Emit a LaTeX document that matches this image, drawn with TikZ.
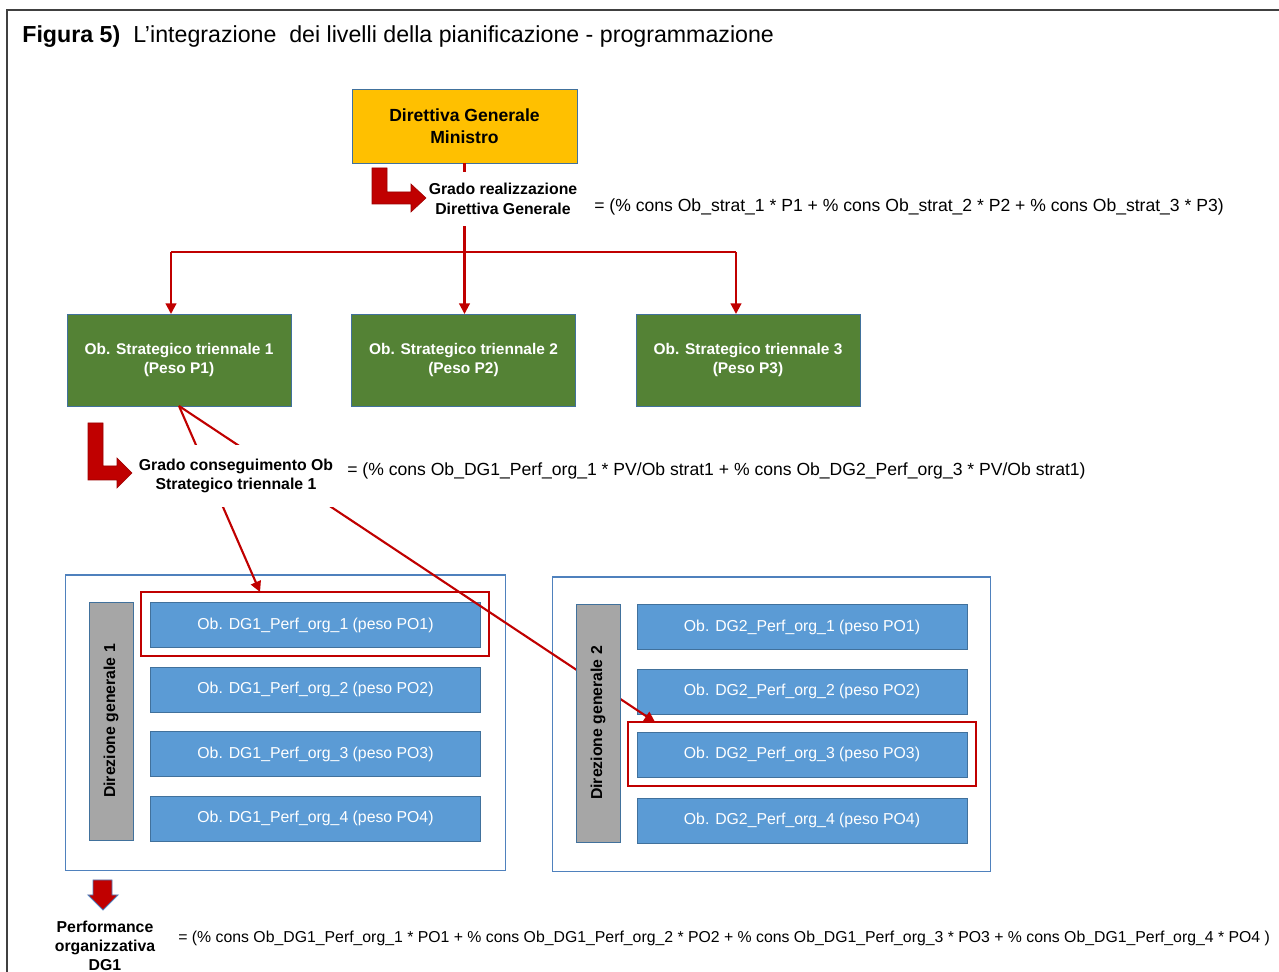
\documentclass[tikz,border=0pt]{standalone}
\usepackage{fontspec}
\setmainfont{Liberation Sans}
\usetikzlibrary{arrows.meta,calc}
\definecolor{oro}{HTML}{FFC000}
\definecolor{verde}{HTML}{548235}
\definecolor{azzurro}{HTML}{5B9BD5}
\definecolor{bordo}{HTML}{41719C}
\definecolor{grigio}{HTML}{A6A6A6}
\definecolor{rosso}{HTML}{C00000}
\definecolor{cornice}{HTML}{4F81BD}

\begin{document}
\begin{tikzpicture}[x=0.02cm,y=-0.02cm,
    box/.style={draw=bordo,line width=0.5pt,inner sep=0pt,outer sep=0pt,align=center},
    strat/.style={box,fill=verde,text=white,font=\fontsize{8.8}{11}\selectfont\bfseries,
      minimum width=4.48cm,minimum height=1.84cm},
    obj/.style={box,fill=azzurro,text=white,font=\fontsize{9}{11}\selectfont,
      minimum width=6.6cm,minimum height=0.9cm},
    dg/.style={box,fill=grigio,font=\fontsize{9}{11}\selectfont\bfseries,rotate=90,
      minimum width=4.76cm,minimum height=0.88cm},
    cont/.style={draw=cornice,fill=white,line width=0.6pt,inner sep=0pt,outer sep=0pt,
      minimum width=8.8cm,minimum height=5.92cm},
    hl/.style={draw=rosso,line width=1.4pt,inner sep=0pt,outer sep=0pt,
      minimum width=6.96cm,minimum height=1.28cm},
    lab/.style={fill=white,align=center,inner sep=0pt,font=\fontsize{9}{11}\selectfont\bfseries},
    formula/.style={anchor=west,inner sep=0pt,font=\fontsize{10}{12}\selectfont},
    arr/.style={draw=rosso,line width=1.2pt,-{Triangle[length=6pt,width=6pt]}},
    bent/.style={fill=rosso,draw=rosso!80!black,line width=0.3pt}]
\useasboundingbox (0,0) rectangle (1279,972);
% cornice
\draw[line width=0.8pt,black!75] (7,972) -- (7,10) -- (1279,10);
\node[anchor=west,inner sep=0pt,font=\fontsize{13.2}{15}\selectfont\bfseries] (fig) at (22,37) {Figura 5)};
\node[anchor=west,inner sep=0pt,font=\fontsize{13.2}{15}\selectfont] (titolo) at (133,37)
  {L'integrazione\ \ dei livelli della pianificazione - programmazione};

% livello ministro
\node[box,fill=oro,font=\fontsize{10}{12.5}\selectfont\bfseries,minimum width=4.5cm,minimum height=1.48cm]
  (dir) at (464.5,126) {Direttiva Generale\\Ministro};
\node[strat] (s1) at (179,360) {Ob. Strategico triennale 1\\(Peso P1)};
\node[strat] (s2) at (463.5,360) {Ob. Strategico triennale 2\\(Peso P2)};
\node[strat] (s3) at (748,360) {Ob. Strategico triennale 3\\(Peso P3)};

\coordinate (bl) at (171,252);
\coordinate (br) at (736,252);
\draw[arr] (dir.south) -- (dir.south |- s2.north);
\draw[rosso,line width=1.2pt] (bl) -- (br);
\draw[arr] (bl) -- (bl |- s1.north);
\draw[arr] (br) -- (br |- s3.north);
\node[lab,minimum width=3.2cm,minimum height=1.08cm] (gr1) at (503,199)
  {Grado realizzazione\\Direttiva Generale};
\fill[bent] (372,168) -- (387,168) -- (387,192) -- (411,192) -- (411,184) -- (426,198)
  -- (411,212) -- (411,204) -- (372,204) -- cycle;
\node[formula] (f1) at (594,207)
  {= (\% cons Ob\_strat\_1 * P1 + \% cons Ob\_strat\_2 * P2 + \% cons Ob\_strat\_3 * P3)};

% direzione generale 1
\node[cont] (c1) at (285.5,723) {};
\node[dg] (g1) at (111,721) {Direzione generale 1};
\node[obj] (o11) at (315.5,625) {Ob. DG1\_Perf\_org\_1 (peso PO1)};
\node[obj] (o12) at (315.5,689.5) {Ob. DG1\_Perf\_org\_2 (peso PO2)};
\node[obj] (o13) at (315.5,754) {Ob. DG1\_Perf\_org\_3 (peso PO3)};
\node[obj] (o14) at (315.5,818.5) {Ob. DG1\_Perf\_org\_4 (peso PO4)};
\node[hl] (h1) at (315,624) {};

% direzione generale 2
\node[cont,minimum width=8.78cm,minimum height=5.9cm] (c2) at (771.5,724.5) {};
\node[obj] (o21) at (802,627) {Ob. DG2\_Perf\_org\_1 (peso PO1)};
\node[obj] (o22) at (802,691.5) {Ob. DG2\_Perf\_org\_2 (peso PO2)};
\node[obj] (o23) at (802,754.5) {Ob. DG2\_Perf\_org\_3 (peso PO3)};
\node[obj] (o24) at (802,820.5) {Ob. DG2\_Perf\_org\_4 (peso PO4)};
\node[hl] (h2) at (802,754) {};

\coordinate (t1) at ($(h1.north west)+(119,0)$);
\coordinate (t2) at ($(h2.north west)+(27,0)$);
\draw[arr] (s1.south) -- (t1);
\draw[arr] (s1.south) -- (t2);
\node[dg] (g2) at (598,723) {Direzione generale 2};
\node[lab,minimum width=4cm,minimum height=1.26cm] (gr2) at (236,476)
  {Grado conseguimento Ob\\Strategico triennale 1};
\fill[bent] (88,423) -- (103,423) -- (103,466) -- (117,466) -- (117,458) -- (132,473)
  -- (117,488) -- (117,480) -- (88,480) -- cycle;
\node[formula] (f2) at (347,471)
  {= (\% cons Ob\_DG1\_Perf\_org\_1 * PV/Ob strat1 + \% cons Ob\_DG2\_Perf\_org\_3 * PV/Ob strat1)};

% performance organizzativa
\filldraw[fill=rosso,draw=cornice,line width=0.5pt] (93,880) -- (112,880) -- (112,895) -- (118,895)
  -- (103,910) -- (88,895) -- (93,895) -- cycle;
\node[lab,fill=none] (perf) at (105,946) {Performance\\organizzativa\\DG1};
\node[formula,font=\fontsize{9}{11}\selectfont] (f3) at (178,938)
  {= (\% cons Ob\_DG1\_Perf\_org\_1 * PO1 + \% cons Ob\_DG1\_Perf\_org\_2 * PO2 + \% cons Ob\_DG1\_Perf\_org\_3 * PO3 + \% cons Ob\_DG1\_Perf\_org\_4 * PO4 )};
\end{tikzpicture}
\end{document}
